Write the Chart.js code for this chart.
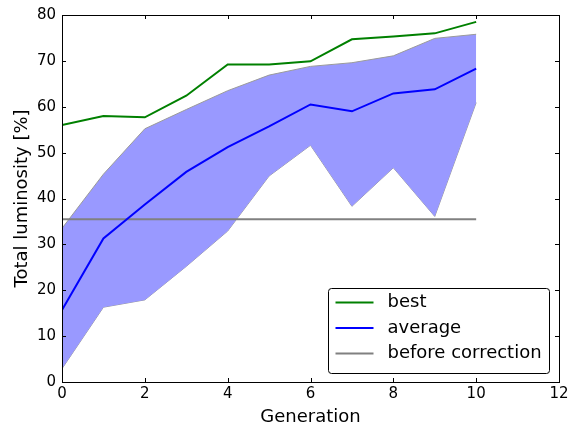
<!DOCTYPE html>
<html>
<head>
<meta charset="utf-8">
<script src="https://cdn.jsdelivr.net/npm/chart.js@4"></script>
<style>
  html, body { margin: 0; padding: 0; background: #fff; }
  #wrap { width: 574px; height: 426px; }
</style>
</head>
<body>
<div id="wrap"><canvas id="myChart" width="574" height="426"></canvas></div>
<script>
const generations = [0, 1, 2, 3, 4, 5, 6, 7, 8, 9, 10];
const best = [56.0, 58.0, 57.7, 62.4, 69.2, 69.2, 69.9, 74.7, 75.3, 76.0, 78.5];
const average = [15.7, 31.3, 38.7, 45.8, 51.2, 55.7, 60.5, 59.0, 62.9, 63.8, 68.3];
const upper = [33.5, 45.3, 55.2, 59.4, 63.5, 66.9, 68.8, 69.6, 71.1, 74.9, 75.8];
const lower = [2.9, 16.3, 17.9, 25.2, 32.9, 44.9, 51.6, 38.3, 46.7, 36.1, 60.9];
const beforeCorrection = 35.5;
const xTicks = [0, 2, 4, 6, 8, 10, 12];
const yTicks = [0, 10, 20, 30, 40, 50, 60, 70, 80];
const legendLabels = ['best', 'average', 'before correction'];

const FONT = 'DejaVu Sans';

function pts(arr) {
    return generations.map((g, i) => ({ x: g, y: arr[i] }));
}

// frame + inward ticks on all four sides, like the old matplotlib style
const frameTicks = {
    id: 'frameTicks',
    afterDatasetsDraw(chart) {
        const ctx = chart.ctx;
        const a = chart.chartArea;
        const xs = chart.scales.x;
        const ys = chart.scales.y;
        const len = 4;
        ctx.save();
        ctx.strokeStyle = '#000';
        ctx.lineWidth = 1;
        ctx.beginPath();
        xTicks.forEach(v => {
            const px = Math.round(xs.getPixelForValue(v)) + 0.5;
            ctx.moveTo(px, a.bottom); ctx.lineTo(px, a.bottom - len);
            ctx.moveTo(px, a.top); ctx.lineTo(px, a.top + len);
        });
        yTicks.forEach(v => {
            const py = Math.round(ys.getPixelForValue(v)) + 0.5;
            ctx.moveTo(a.left, py); ctx.lineTo(a.left + len, py);
            ctx.moveTo(a.right, py); ctx.lineTo(a.right - len, py);
        });
        ctx.stroke();
        ctx.strokeRect(Math.round(a.left) + 0.5, Math.round(a.top) + 0.5,
            Math.round(a.right - a.left), Math.round(a.bottom - a.top));
        ctx.restore();
    }
};

// legend box in the lower right of the plot
const insideLegend = {
    id: 'insideLegend',
    afterDraw(chart) {
        const ctx = chart.ctx;
        const a = chart.chartArea;
        const boxW = 221, boxH = 85;
        const bx = a.right - 10 - boxW + 0.5;
        const by = a.bottom - 9 - boxH + 0.5;
        ctx.save();
        ctx.fillStyle = '#fff';
        ctx.strokeStyle = '#000';
        ctx.lineWidth = 1;
        ctx.beginPath();
        ctx.roundRect(bx, by, boxW, boxH, 3);
        ctx.fill();
        ctx.stroke();
        ctx.font = '18px "' + FONT + '"';
        ctx.textBaseline = 'middle';
        ctx.fillStyle = '#000';
        legendLabels.forEach((lab, i) => {
            const ds = chart.data.datasets.find(d => d.label === lab);
            const y = by + 14 + i * 25.5;
            ctx.strokeStyle = ds.borderColor;
            ctx.lineWidth = 2;
            ctx.beginPath();
            ctx.moveTo(bx + 7, y);
            ctx.lineTo(bx + 45, y);
            ctx.stroke();
            ctx.fillText(lab, bx + 59, y);
        });
        ctx.restore();
    }
};

const ctx = document.getElementById('myChart').getContext('2d');
const chart = new Chart(ctx, {
    type: 'line',
    data: {
        datasets: [
            {
                label: 'best',
                data: pts(best),
                borderColor: '#008000',
                borderWidth: 2,
                pointRadius: 0,
                fill: false,
            },
            {
                label: 'average',
                data: pts(average),
                borderColor: '#0000ff',
                borderWidth: 2,
                pointRadius: 0,
                fill: false,
            },
            {
                label: 'before correction',
                data: pts(generations.map(() => beforeCorrection)),
                borderColor: '#808080',
                borderWidth: 2,
                pointRadius: 0,
                fill: false,
            },
            {
                label: 'max',
                data: pts(upper),
                borderColor: '#9a9a9a',
                borderWidth: 1,
                pointRadius: 0,
                backgroundColor: '#9999ff',
                fill: '+1',
            },
            {
                label: 'min',
                data: pts(lower),
                borderColor: '#9a9a9a',
                borderWidth: 1,
                pointRadius: 0,
                fill: false,
            }
        ],
    },
    options: {
        responsive: false,
        animation: false,
        events: [],
        layout: {
            padding: { left: 0, right: 15, top: 14, bottom: 0 }
        },
        plugins: {
            legend: { display: false },
            tooltip: { enabled: false },
        },
        scales: {
            x: {
                type: 'linear',
                min: 0,
                max: 12,
                afterBuildTicks: s => { s.ticks = xTicks.map(v => ({ value: v })); },
                afterFit: s => { s.height = 44; },
                ticks: {
                    color: '#000',
                    padding: 3,
                    maxRotation: 0,
                    font: { family: FONT, size: 15 },
                },
                grid: { display: false, drawTicks: false },
                border: { display: false },
                title: {
                    display: true,
                    text: 'Generation',
                    color: '#000',
                    font: { family: FONT, size: 18 },
                    padding: { top: 0, bottom: -2 },
                }
            },
            y: {
                type: 'linear',
                min: 0,
                max: 80,
                afterBuildTicks: s => { s.ticks = yTicks.map(v => ({ value: v })); },
                afterFit: s => { s.width = 62; },
                ticks: {
                    color: '#000',
                    padding: 6,
                    font: { family: FONT, size: 15 },
                },
                grid: { display: false, drawTicks: false },
                border: { display: false },
                title: {
                    display: true,
                    text: 'Total luminosity [%]',
                    color: '#000',
                    font: { family: FONT, size: 18 },
                    padding: { top: 12, bottom: 0 },
                }
            }
        }
    },
    plugins: [frameTicks, insideLegend]
});
</script>
</body>
</html>
